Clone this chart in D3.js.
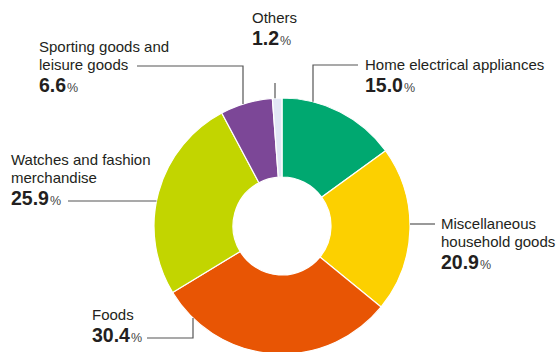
<!DOCTYPE html>
<html>
<head>
<meta charset="utf-8">
<script src="https://cdn.jsdelivr.net/npm/d3@7"></script>
<style>
  body { margin: 0; background: #fff; }
  svg text { font-family: "Liberation Sans", Arial, sans-serif; fill: #231f20; }
  .lead { fill: none; stroke: #555; stroke-width: 1.2; }
</style>
</head>
<body>
<svg id="chart" width="557" height="352"></svg>
<script>
var categories = ["Home electrical appliances", "Miscellaneous household goods", "Foods",
  "Watches and fashion merchandise", "Sporting goods and leisure goods", "Others"];
var shares = [15.0, 20.9, 30.4, 25.9, 6.6, 1.2];
var colors = ["#00a870", "#fcd000", "#e85504", "#c2d500", "#7c4797", "#e2e7f5"];

// label text lines (name split as in the figure)
var labelLines = [
  ["Home electrical appliances"],
  ["Miscellaneous", "household goods"],
  ["Foods"],
  ["Watches and fashion", "merchandise"],
  ["Sporting goods and", "leisure goods"],
  ["Others"]
];

var cx = 282, cy = 226, rOut = 128, rIn = 49;

// layout of each callout: text anchor point, and leader route
var callouts = [
  { tx: 365, ty: 70, vx: 313, hy: 65, hx: 358 },
  { tx: 441, ty: 229, hy: 224, hx: 435, side: "right" },
  { tx: 92, ty: 320, vx: 193, hy: 338, hx: 147, bottom: true },
  { tx: 11, ty: 165, hy: 201, hx: 68, side: "left" },
  { tx: 39, ty: 52, vx: 243, hy: 66, hx: 137 },
  { tx: 252, ty: 23, vx: 275, hy: 83, hx: null }
];

var svg = d3.select("#chart");
var g = svg.append("g").attr("transform", "translate(" + cx + "," + cy + ")");

var pie = d3.pie().sort(null).value(function (d) { return d; });
var arc = d3.arc().innerRadius(rIn).outerRadius(rOut);
var arcs = pie(shares);

g.selectAll("path.slice")
  .data(arcs)
  .enter()
  .append("path")
  .attr("class", "slice")
  .attr("d", arc)
  .attr("fill", function (d, i) { return colors[i]; })
  .attr("stroke", "#fff")
  .attr("stroke-width", 1.2);

// leaders
callouts.forEach(function (c, i) {
  var pts;
  if (c.vx != null) {
    var dx = c.vx - cx;
    var dy = Math.sqrt(rOut * rOut - dx * dx);
    var ey = c.bottom ? cy + dy : cy - dy;
    pts = [[c.vx, ey], [c.vx, c.hy]];
    if (c.hx != null) pts.push([c.hx, c.hy]);
  } else {
    var dy2 = c.hy - cy;
    var dx2 = Math.sqrt(rOut * rOut - dy2 * dy2);
    var ex = c.side === "left" ? cx - dx2 : cx + dx2;
    pts = [[ex, c.hy], [c.hx, c.hy]];
  }
  svg.append("path")
    .attr("class", "lead")
    .attr("d", d3.line()(pts));
});

// labels
callouts.forEach(function (c, i) {
  var lines = labelLines[i];
  var t = svg.append("text").attr("x", c.tx).attr("y", c.ty).attr("font-size", 15);
  lines.forEach(function (l, k) {
    t.append("tspan").attr("x", c.tx).attr("dy", k === 0 ? 0 : 18).text(l);
  });
  var py = c.ty + (lines.length - 1) * 18 + 22;
  var p = svg.append("text").attr("x", c.tx).attr("y", py);
  p.append("tspan").attr("font-size", 19.5).attr("font-weight", "bold").text(shares[i].toFixed(1));
  p.append("tspan").attr("font-size", 12.5).attr("dx", 1).attr("fill", "#444").text("%");
});
</script>
</body>
</html>
